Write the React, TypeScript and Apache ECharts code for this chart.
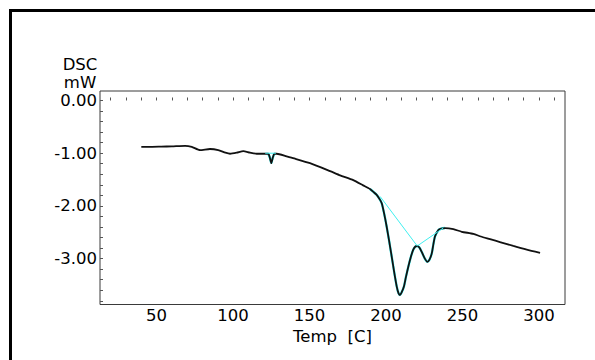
import React, { useEffect, useRef } from "react";
import * as echarts from "echarts";

// DSC curve, temperature [C] vs heat flow [mW]
const temps = [
  40, 45, 53, 60, 68.6, 73, 78.4, 84.9, 90.3, 95, 98, 102.4, 106.7, 111, 115.4, 120, 123,
  124, 125, 126, 127, 128.5, 135, 140, 150.3, 163.4, 170, 178.6, 185, 189.5, 192, 193.9,
  196, 197.2, 198.8, 200.4, 202, 203.7, 205.3, 207, 208.2, 209.1, 210.2, 211.7, 213, 214.6,
  216.2, 217.8, 219.2, 220.4, 221.8, 223.3, 225.2, 227, 228.4, 229.9, 231, 232, 234.2, 236,
  238.6, 244, 249.5, 257.1, 262, 268, 275, 283.2, 292, 300.7,
];
const dsc = [
  -0.88, -0.88, -0.875, -0.87, -0.86, -0.88, -0.94, -0.92, -0.94, -0.99, -1.01, -0.99, -0.96,
  -0.99, -1.01, -1.01, -1.01, -1.08, -1.19, -1.08, -1.01, -1.01, -1.06, -1.1, -1.19, -1.34,
  -1.42, -1.51, -1.61, -1.68, -1.74, -1.79, -1.88, -1.95, -2.15, -2.39, -2.66, -2.96, -3.25,
  -3.53, -3.66, -3.69, -3.64, -3.53, -3.35, -3.15, -2.97, -2.83, -2.77, -2.76, -2.79, -2.87,
  -2.99, -3.06, -3.02, -2.9, -2.72, -2.58, -2.46, -2.43, -2.42, -2.44, -2.49, -2.53, -2.58,
  -2.63, -2.69, -2.76, -2.83, -2.89,
];

// cyan analysis baselines
const peakBaseTemps = [196.1, 220.4, 237.4];
const peakBaseDsc = [-1.82, -2.76, -2.42];
const spikeBaseTemps = [121, 128];
const spikeBaseDsc = [-1.0, -1.0];

// axes
const xTickLabels = [50, 100, 150, 200, 250, 300];
const xTicks = [20, 30, 40, 50, 60, 70, 80, 90, 100, 110, 120, 130, 140, 150, 160, 170, 180, 190, 200, 210, 220, 230, 240, 250, 260, 270, 280, 290, 300, 310];
const yTickLabels = [0, -1, -2, -3];
const yTicks = [0, -0.2, -0.4, -0.6, -0.8, -1, -1.2, -1.4, -1.6, -1.8, -2, -2.2, -2.4, -2.6, -2.8, -3, -3.2, -3.4, -3.6, -3.8];

const pairs = (xs: number[], ys: number[]) => xs.map((x, i) => [x, ys[i]]);

export default function App() {
  const ref = useRef<HTMLDivElement>(null);
  useEffect(() => {
    if (!ref.current) return;
    const chart = echarts.init(ref.current, null, { renderer: "svg" });
    const font = "DejaVu Sans";
    const main = pairs(temps, dsc);
    const spikeTrace = main.filter((p) => p[0] >= 122 && p[0] <= 128);
    const peakTrace = main.filter((p) => p[0] >= 188 && p[0] <= 239);
    chart.setOption({
      animation: false,
      backgroundColor: "#ffffff",
      grid: {
        left: 100,
        top: 91,
        width: 465,
        height: 213.5,
        show: true,
        borderColor: "#3a3a3a",
        borderWidth: 1,
        backgroundColor: "transparent",
      },
      xAxis: {
        type: "value",
        min: 13,
        max: 317,
        name: "Temp  [C]",
        nameLocation: "middle",
        nameGap: 20,
        nameTextStyle: { fontFamily: font, fontSize: 16.5, color: "#000" },
        axisLine: { show: false },
        axisTick: { show: true, inside: true, length: 3, customValues: xTicks, lineStyle: { color: "#555" } },
        axisLabel: {
          customValues: xTickLabels,
          fontFamily: font,
          fontSize: 16.5,
          color: "#000",
          margin: 2,
          formatter: (v: number) => String(v),
        },
        splitLine: { show: false },
      },
      yAxis: {
        type: "value",
        min: -3.87,
        max: 0.18,
        axisLine: { show: false },
        axisTick: { show: true, inside: true, length: 3, customValues: yTicks, lineStyle: { color: "#555" } },
        axisLabel: {
          customValues: yTickLabels,
          fontFamily: font,
          fontSize: 16.5,
          color: "#000",
          margin: 3,
          formatter: (v: number) => v.toFixed(2),
        },
        splitLine: { show: false },
      },
      graphic: [
        {
          type: "polyline",
          shape: { points: [[10.5, 362], [10.5, 10.5], [600, 10.5]] },
          style: { stroke: "#000", lineWidth: 3, fill: null },
          silent: true,
        },
        {
          type: "text",
          x: 80,
          y: 64,
          style: { text: "DSC", font: `16.5px "${font}"`, fill: "#000", align: "center", verticalAlign: "middle" },
        },
        {
          type: "text",
          x: 80,
          y: 82,
          style: { text: "mW", font: `16.5px "${font}"`, fill: "#000", align: "center", verticalAlign: "middle" },
        },
      ],
      series: [
        {
          type: "line",
          data: peakTrace,
          showSymbol: false,
          smooth: 0.2,
          lineStyle: { color: "#40f0f0", width: 2.4 },
          z: 1,
        },
        {
          type: "line",
          data: spikeTrace,
          showSymbol: false,
          lineStyle: { color: "#40f0f0", width: 2.4 },
          z: 1,
        },
        {
          type: "line",
          data: main,
          showSymbol: false,
          smooth: 0.2,
          lineStyle: { color: "#111", width: 1.8 },
          z: 2,
        },
        {
          type: "line",
          data: pairs(peakBaseTemps, peakBaseDsc),
          showSymbol: false,
          lineStyle: { color: "#40f0f0", width: 1 },
          z: 3,
        },
        {
          type: "line",
          data: pairs(spikeBaseTemps, spikeBaseDsc),
          showSymbol: false,
          lineStyle: { color: "#40f0f0", width: 1 },
          z: 3,
        },
      ],
    });
    return () => chart.dispose();
  }, []);
  return (
    <div
      ref={ref}
      style={{ position: "fixed", left: 0, top: 0, width: 595, height: 360, background: "#fff" }}
    />
  );
}
